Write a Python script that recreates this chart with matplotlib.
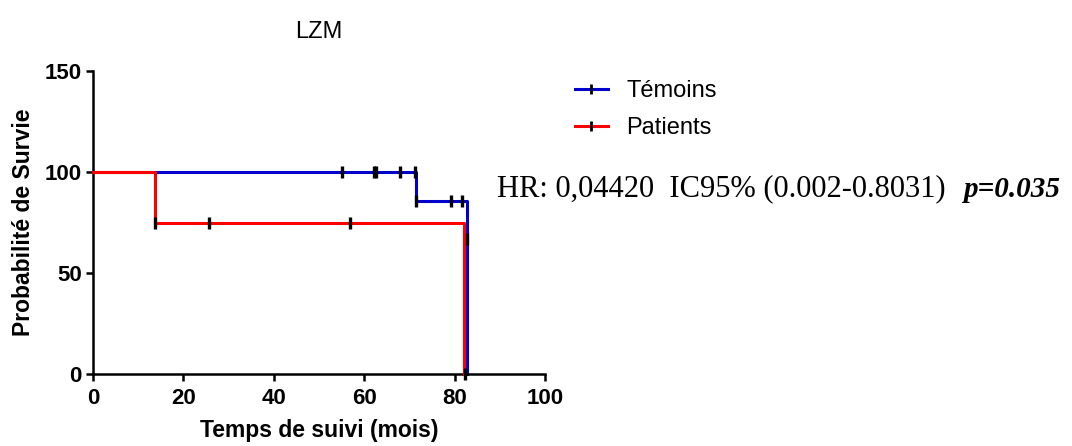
import matplotlib
matplotlib.use("Agg")
import matplotlib.pyplot as plt
from matplotlib.lines import Line2D

# Kaplan-Meier steps (time in months, survival in %)
temoins_t = [0, 71.5, 82.7]
temoins_s = [100, 85.7, 0]
patients_t = [0, 13.7, 82.0]
patients_s = [100, 75, 0]

# censored marks
temoins_cens_t = [55.0, 62.2, 62.7, 67.9, 71.2, 71.5, 79.2, 81.7, 82.7]
temoins_cens_s = [100, 100, 100, 100, 100, 85.7, 85.7, 85.7, 66.7]
patients_cens_t = [13.7, 25.7, 56.9, 82.4]
patients_cens_s = [75, 75, 75, 0]

labels = ["Témoins", "Patients"]
hr_text = "HR: 0,04420  IC95% (0.002-0.8031)"
p_text = "p=0.035"

plt.rcParams["font.family"] = ["Liberation Sans", "DejaVu Sans"]

fig = plt.figure(figsize=(10.72, 4.46), dpi=100)
ax = fig.add_axes((0.0868, 0.161, 0.4216, 0.68))

ax.step(patients_t, patients_s, where="post", color="#ff0000", lw=2.2, clip_on=False, zorder=3)
ax.step(temoins_t, temoins_s, where="post", color="#0000cc", lw=2.2, clip_on=False, zorder=2)
ax.plot(temoins_cens_t, temoins_cens_s, "|", color="black", ms=8, mew=2.4, clip_on=False, zorder=4)
ax.plot(patients_cens_t, patients_cens_s, "|", color="black", ms=8, mew=2.4, clip_on=False, zorder=4)

ax.set_xlim(0, 100)
ax.set_ylim(0, 150)
ax.set_xticks([0, 20, 40, 60, 80, 100])
ax.set_yticks([0, 50, 100, 150])
ax.spines[["top", "right"]].set_visible(False)
for s in ["left", "bottom"]:
    ax.spines[s].set_linewidth(1.8)
ax.tick_params(width=1.8, length=5, labelsize=16)
ax.tick_params(axis="x", pad=5)
ax.tick_params(axis="y", pad=3)
for lab in ax.get_xticklabels() + ax.get_yticklabels():
    lab.set_fontweight("bold")

ax.set_xlabel("Temps de suivi (mois)", fontsize=16.5, fontweight="bold", labelpad=7)
ax.set_ylabel("Probabilité de Survie", fontsize=16.5, fontweight="bold", labelpad=7)
ax.set_title("LZM", fontsize=17, pad=24)

handles = [
    Line2D([], [], color="#0000cc", lw=2.2, marker="|", mec="black", ms=7, mew=2),
    Line2D([], [], color="#ff0000", lw=2.2, marker="|", mec="black", ms=7, mew=2),
]
fig.legend(handles, labels, loc="upper left", bbox_to_anchor=(0.536, 0.82),
           frameon=False, fontsize=17, handlelength=1.4, handletextpad=0.8,
           labelspacing=0.62, borderpad=0, borderaxespad=0, numpoints=1)

fig.text(0.4636, 0.576, hr_text, fontsize=22, family="Liberation Serif", va="center", ha="left")
fig.text(0.989, 0.576, p_text, fontsize=21, family="Liberation Serif", fontweight="bold",
         fontstyle="italic", va="center", ha="right")

fig.savefig("out.png", dpi=100)
